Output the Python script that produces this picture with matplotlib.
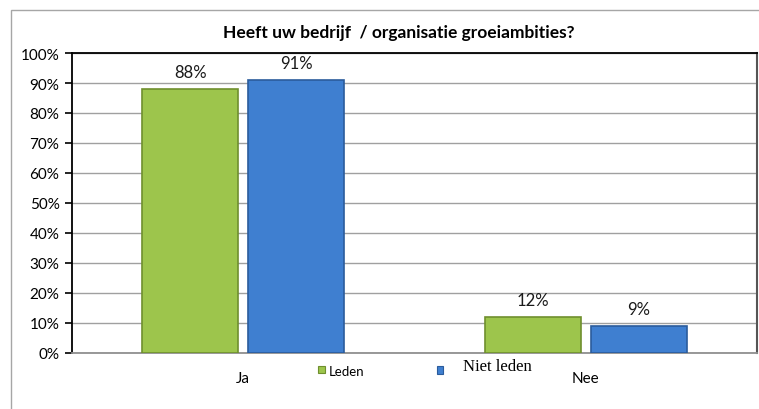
import matplotlib
matplotlib.use("Agg")
import matplotlib.pyplot as plt
import numpy as np
from matplotlib.patches import Rectangle

categories = ["Ja", "Nee"]
leden = [88, 12]
niet_leden = [91, 9]
series_names = ["Leden", "Niet leden"]
yticks = list(range(0, 101, 10))

GREEN = "#9dc54c"
GREEN_EDGE = "#6f8f2e"
BLUE = "#3f7fd0"
BLUE_EDGE = "#2b5c9c"

plt.rcParams["font.family"] = ["Lato", "DejaVu Sans"]

fig = plt.figure(figsize=(7.59, 4.10), dpi=100)
fig.patch.set_facecolor("white")

# outer chart frame
fig.patches.append(Rectangle((11 / 759, -0.05), 1.0, 1.05 - 11 / 410,
                             transform=fig.transFigure, fill=False,
                             edgecolor="#a6a6a6", linewidth=1.0))

ax = fig.add_axes([72 / 759, 1 - 354 / 410, 685 / 759, 300 / 410])

x = np.arange(len(categories))
w = 0.28
off = 0.155
b1 = ax.bar(x - off, leden, w, color=GREEN, edgecolor=GREEN_EDGE, linewidth=1.2, zorder=3)
b2 = ax.bar(x + off, niet_leden, w, color=BLUE, edgecolor=BLUE_EDGE, linewidth=1.2, zorder=3)

for bars, vals in ((b1, leden), (b2, niet_leden)):
    for bar, v in zip(bars, vals):
        ax.text(bar.get_x() + bar.get_width() / 2, v + 3.0, f"{v}%",
                ha="center", va="bottom", fontsize=12, color="#1a1a1a")

ax.set_xlim(-0.5, 1.5)
ax.set_ylim(0, 100)
ax.set_yticks(yticks)
ax.set_yticklabels([f"{t}%" for t in yticks], fontsize=11)
ax.set_xticks(x)
ax.set_xticklabels(categories, fontsize=11)
ax.tick_params(axis="y", length=5, width=1.2, color="black", pad=4)
ax.tick_params(axis="x", length=0, pad=13)
ax.yaxis.grid(True, color="#a0a0a0", linewidth=1.0, zorder=0)
ax.set_axisbelow(True)

ax.spines["left"].set_color("black")
ax.spines["left"].set_linewidth(1.3)
ax.spines["top"].set_color("black")
ax.spines["top"].set_linewidth(1.3)
ax.spines["right"].set_color("#555555")
ax.spines["right"].set_linewidth(1.5)
ax.spines["bottom"].set_color("#909090")
ax.spines["bottom"].set_linewidth(1.3)

fig.text(399 / 759, 1 - 33 / 410, "Heeft uw bedrijf  / organisatie groeiambities?",
         ha="center", va="center", fontsize=12.5, fontweight="bold")

# legend
fig.patches.append(Rectangle((318 / 759, 1 - 374 / 410), 7 / 759, 7 / 410,
                             transform=fig.transFigure, facecolor=GREEN,
                             edgecolor=GREEN_EDGE, linewidth=0.8))
fig.text(329 / 759, 1 - 372 / 410, series_names[0], ha="left", va="center", fontsize=9.5)
fig.patches.append(Rectangle((437 / 759, 1 - 375 / 410), 6 / 759, 8 / 410,
                             transform=fig.transFigure, facecolor=BLUE,
                             edgecolor=BLUE_EDGE, linewidth=0.8))
fig.text(463 / 759, 1 - 367 / 410, series_names[1], ha="left", va="center", fontsize=12,
         family=["Liberation Serif", "DejaVu Serif"])

fig.savefig("out.png", dpi=100)
